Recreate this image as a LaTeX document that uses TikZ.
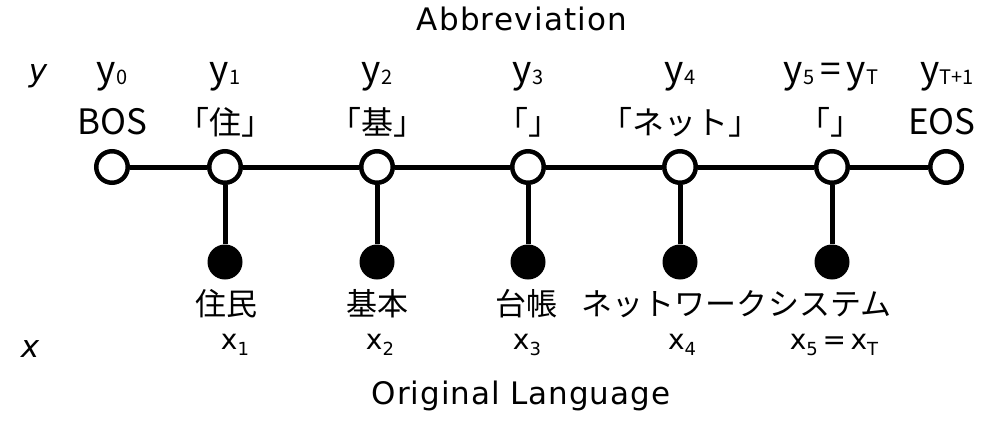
\documentclass[tikz,border=0pt]{standalone}
\usepackage{fontspec}
\setmainfont{Noto Sans CJK JP}
\newfontfamily\latinfont{DejaVu Sans}
\newcommand{\subs}[1]{\raisebox{-0.1ex}{\fontsize{20}{20}\selectfont #1}}
\newcommand{\xsubs}[1]{\raisebox{-0.35ex}{\fontsize{18}{18}\selectfont #1}}
\begin{document}
\begin{tikzpicture}[x=1pt,y=-1pt,
  lbl/.style={inner sep=0pt, font=\fontsize{32}{32}\selectfont},
  blbl/.style={inner sep=0pt, font=\fontsize{35}{35}\selectfont},
  wlbl/.style={inner sep=0pt, font=\fontsize{31}{31}\selectfont},
  ylbl/.style={inner sep=0pt, font=\fontsize{37}{37}\selectfont},
  xlbl/.style={inner sep=0pt, font=\latinfont\fontsize{28}{28}\selectfont},
  title/.style={inner sep=0pt, font=\latinfont\fontsize{31}{31}\selectfont},
  openstate/.style={circle, draw=black, fill=white, line width=4.5pt, minimum size=31.5pt, inner sep=0pt},
  obsstate/.style={circle, fill=black, minimum size=35pt, inner sep=0pt},
  link/.style={line width=5pt}]
\useasboundingbox (0,0) rectangle (981,425);

% abbreviation chain
\node[openstate] (y0) at (112,167) {};
\node[openstate] (y1) at (225,167) {};
\node[openstate] (y2) at (377,167) {};
\node[openstate] (y3) at (528,167) {};
\node[openstate] (y4) at (680,167) {};
\node[openstate] (y5) at (832,167) {};
\node[openstate] (y6) at (946,167) {};

% original-language observations
\node[obsstate] (x1) at (225,262) {};
\node[obsstate] (x2) at (377,262) {};
\node[obsstate] (x3) at (528,262) {};
\node[obsstate] (x4) at (680,262) {};
\node[obsstate] (x5) at (832,262) {};

\draw[link] (y0) -- (y1);
\draw[link] (y1) -- (y2);
\draw[link] (y2) -- (y3);
\draw[link] (y3) -- (y4);
\draw[link] (y4) -- (y5);
\draw[link] (y5) -- (y6);
\draw[link] (y1) -- (x1);
\draw[link] (y2) -- (x2);
\draw[link] (y3) -- (x3);
\draw[link] (y4) -- (x4);
\draw[link] (y5) -- (x5);

% headings
\node[title] (abbr) at (522,19) {\addfontfeature{LetterSpace=4}Abbreviation};
\node[title, anchor=base] (orig) at (521,404) {\addfontfeature{LetterSpace=3}Original Language};
\node[inner sep=0pt, font=\latinfont\itshape\fontsize{31}{31}\selectfont] (yaxis) at (38,76) {y};
\node[inner sep=0pt, font=\latinfont\itshape\fontsize{31}{31}\selectfont] (xaxis) at (30,349) {x};

% output symbols
\node[ylbl] (ly0) at (112,77) {y\subs{0}};
\node[ylbl] (ly1) at (225,77) {y\subs{1}};
\node[ylbl] (ly2) at (377,77) {y\subs{2}};
\node[ylbl] (ly3) at (528,77) {y\subs{3}};
\node[ylbl] (ly4) at (680,77) {y\subs{4}};
\node[ylbl] (ly5) at (831,77) {y\subs{5}\,=\,y\subs{T}};
\node[ylbl] (ly6) at (947,77) {y\subs{T+1}};

\node[blbl] (w0) at (112,122) {BOS};
\node[lbl] (w1) at (225,122) {「住」};
\node[lbl] (w2) at (377,122) {「基」};
\node[lbl] (w3) at (528,122) {「」};
\node[lbl] (w4) at (680,122) {「ネット」};
\node[lbl] (w5) at (830,122) {「」};
\node[blbl] (w6) at (942,122) {EOS};

% input words
\node[wlbl] (s1) at (226,304) {住民};
\node[wlbl] (s2) at (377,304) {基本};
\node[wlbl] (s3) at (526,304) {台帳};
\node[wlbl] (s4) at (674,304) {ネットワーク};
\node[wlbl] (s5) at (830,304) {システム};

\node[xlbl] (lx1) at (235,345) {x\xsubs{1}};
\node[xlbl] (lx2) at (380,345) {x\xsubs{2}};
\node[xlbl] (lx3) at (527,345) {x\xsubs{3}};
\node[xlbl] (lx4) at (682,345) {x\xsubs{4}};
\node[xlbl] (lx5) at (834,345) {x\xsubs{5}\,=\,x\xsubs{T}};
\end{tikzpicture}
\end{document}
